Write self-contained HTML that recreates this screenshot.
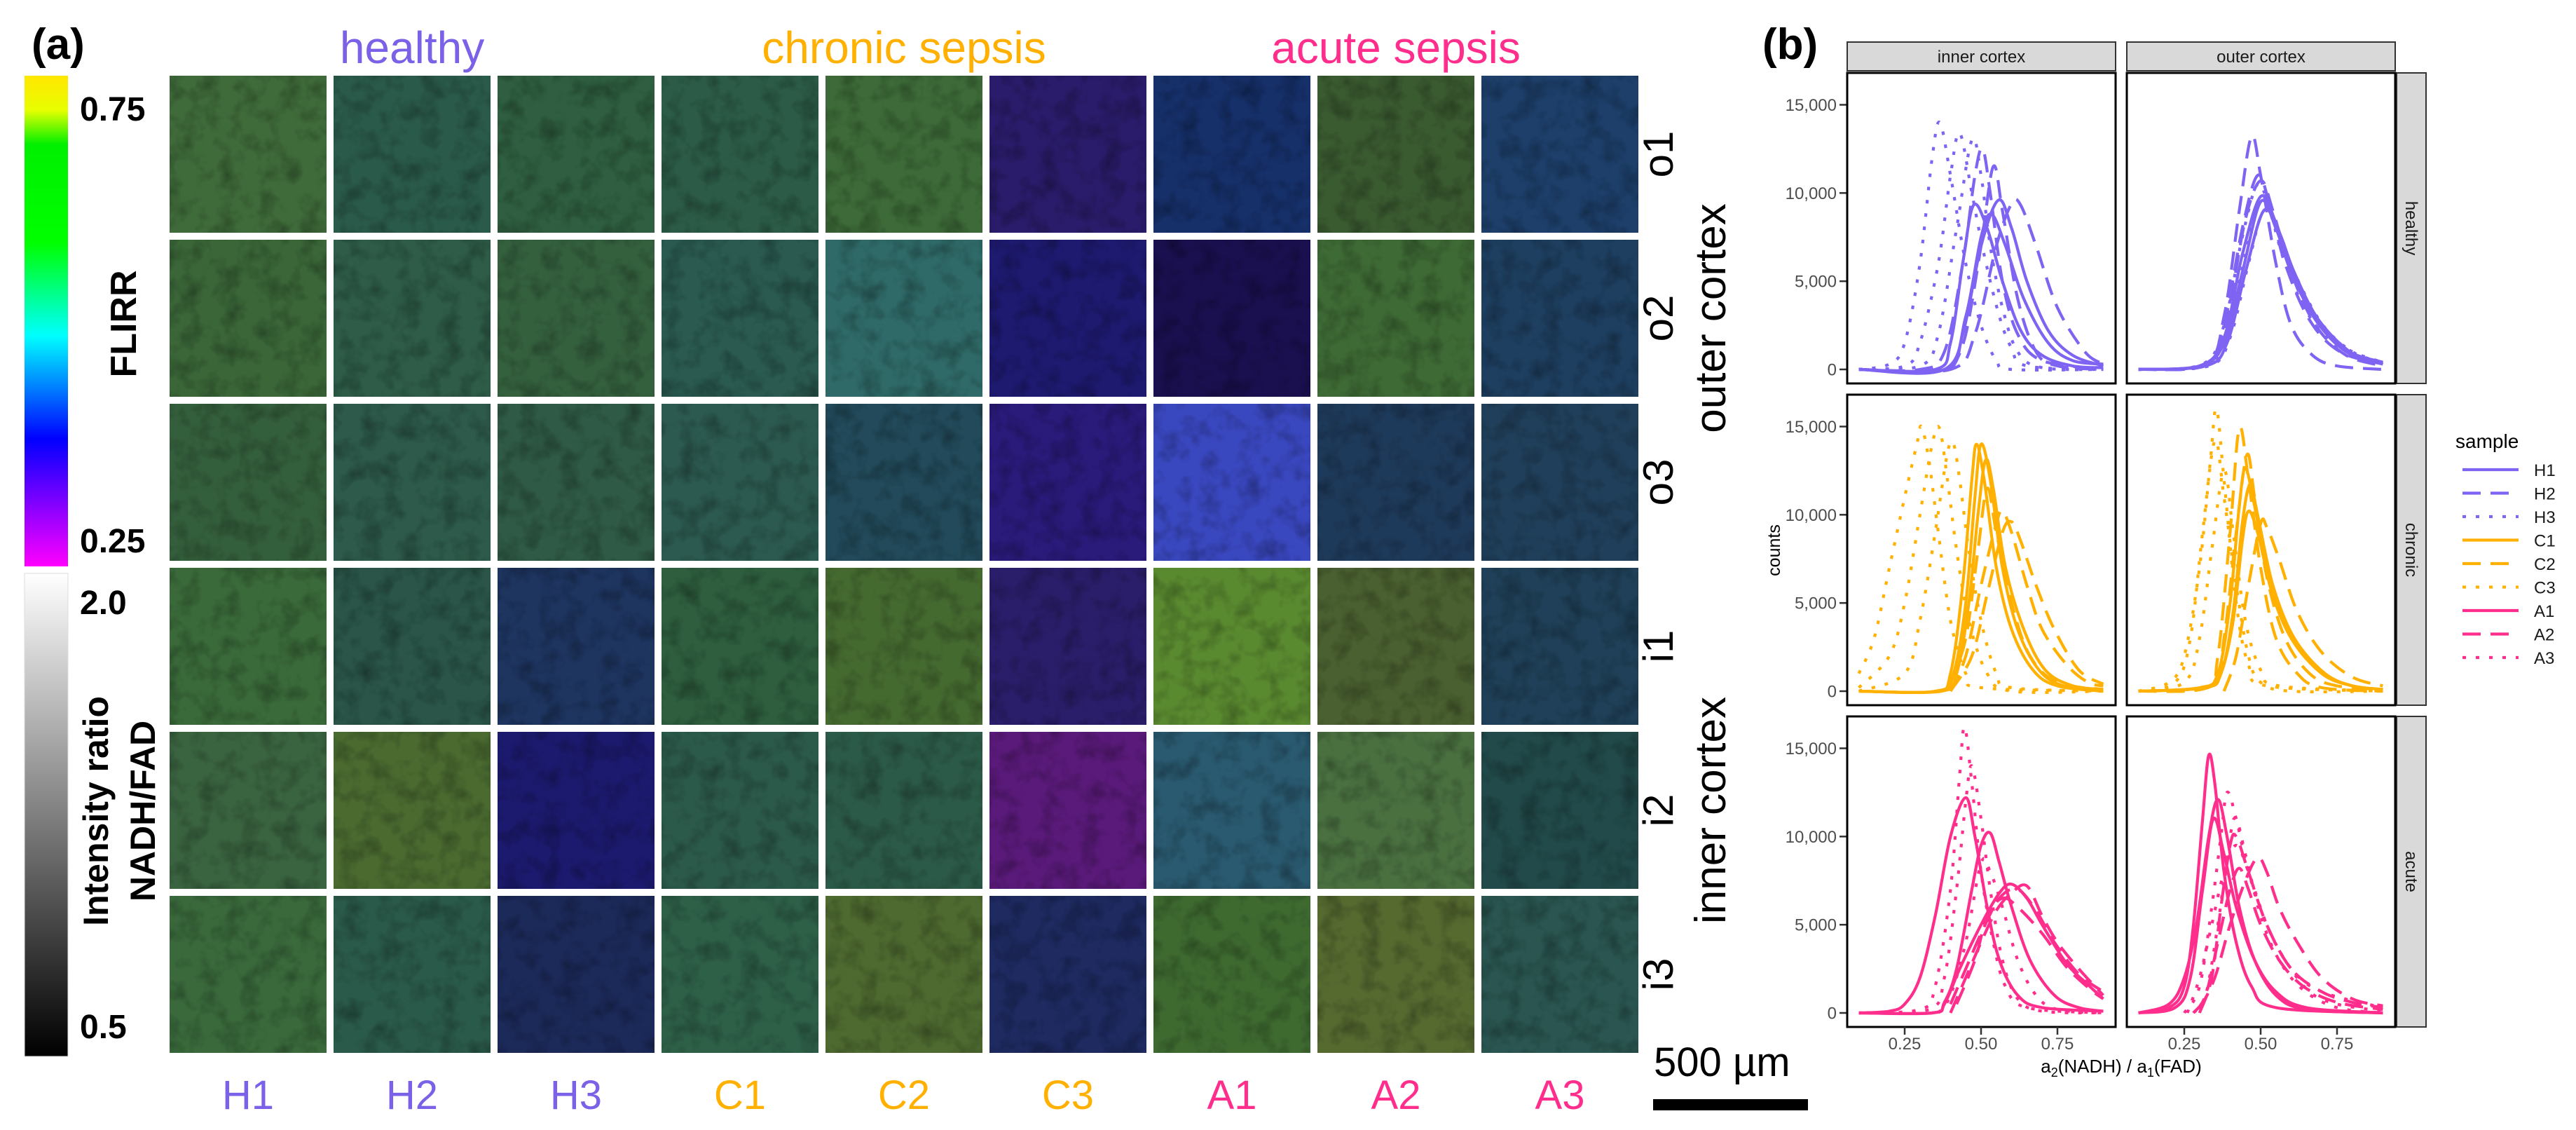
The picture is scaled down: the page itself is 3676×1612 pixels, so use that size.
<!DOCTYPE html>
<html><head><meta charset="utf-8"><style>
html,body{margin:0;padding:0;background:#fff;}
svg{display:block;font-family:"Liberation Sans",sans-serif;}
</style></head><body>
<svg id="fig" width="3676" height="1612" viewBox="0 0 3676 1612" xmlns="http://www.w3.org/2000/svg">
<defs>
<linearGradient id="flirrGrad" x1="0" y1="0" x2="0" y2="1">
<stop offset="0" stop-color="#ffe600"/><stop offset="0.07" stop-color="#e8ff00"/><stop offset="0.14" stop-color="#00f000"/><stop offset="0.34" stop-color="#00ff00"/><stop offset="0.53" stop-color="#00ffff"/><stop offset="0.74" stop-color="#0000ff"/><stop offset="1" stop-color="#ff00ff"/>
</linearGradient>
<linearGradient id="grayGrad" x1="0" y1="0" x2="0" y2="1">
<stop offset="0" stop-color="#ffffff"/><stop offset="1" stop-color="#000000"/>
</linearGradient>
<filter id="tex" x="0" y="0" width="100%" height="100%">
<feTurbulence type="fractalNoise" baseFrequency="0.035" numOctaves="3" seed="4"/>
<feColorMatrix type="matrix" values="0 0 0 0 0  0 0 0 0 0  0 0 0 0 0  0 0 0 -1.6 0.9"/>
</filter>
</defs>
<g id="panelA"></g>
<g id="panelB"></g>
</svg>
<script>
// ---------- Panel (a) data ----------
const sampleLabels = ["H1","H2","H3","C1","C2","C3","A1","A2","A3"];
const rowLabels = ["o1","o2","o3","i1","i2","i3"];
const tileColors = [
 ["#3f6b3a","#2a5a4a","#2f5f40","#2c5c48","#3d6a38","#2a1c6a","#16306a","#3a5a30","#1d3f6a"],
 ["#3a6638","#2e5c48","#34603e","#2a5a50","#2f6a68","#1e1a70","#1a1050","#3e6a35","#1e3f60"],
 ["#345f3c","#2d5a4a","#2f5a45","#2c5a50","#224a5a","#2a1a7a","#3a48c0","#1e3a5a","#203f5a"],
 ["#3a6a3a","#2a5548","#1e3560","#2e5e3e","#456a30","#2a1e6a","#5a8a30","#4a6030","#1f4058"],
 ["#3a6440","#4a6a30","#1c1a6e","#2c5a4a","#2c5a48","#5a1a7a","#2a5a70","#4a7040","#224a4a"],
 ["#3a6a3c","#2a5a4a","#1c2a5a","#2e6048","#4e6a30","#1e2a60","#3e6a30","#566a30","#2a5550"]
];
const groupColors = {H:"#7B61E8", C:"#FFB000", A:"#FF2E8C"};

// ---------- Panel (b) data: [x, counts in thousands] ----------
const healthyInnerH1 = [
 [[.1,0],[.35,0],[.4,1.5],[.44,6],[.475,9.3],[.52,8],[.57,5],[.63,2.2],[.7,0.8],[.8,0.2],[.9,0.1]],
 [[.1,0],[.38,0],[.44,2],[.5,7],[.557,9.6],[.6,8],[.65,5],[.72,2.2],[.8,0.8],[.9,0.2]],
 [[.1,0],[.38,0],[.45,3],[.5,7.5],[.534,8.8],[.58,7],[.64,4],[.72,1.5],[.8,0.5],[.9,0.3]]];
const healthyInnerH2 = [
 [[.1,0],[.3,0],[.38,1],[.44,6],[.48,11],[.505,12.5],[.53,10],[.57,5],[.62,2],[.7,0.5],[.9,0]],
 [[.405,0],[.45,2],[.5,7],[.54,11.5],[.57,9],[.62,4],[.68,1],[.75,0.2],[.9,0]],
 [[.1,0],[.4,0],[.48,2],[.55,7],[.6,9.4],[.63,9.3],[.68,7],[.75,3.5],[.84,1],[.9,0.3]]];
const healthyInnerH3 = [
 [[.1,0],[.2,0.3],[.25,1.5],[.3,6],[.34,12],[.365,14],[.4,11],[.45,6],[.5,2.5],[.55,0.5],[.6,0],[.9,0]],
 [[.1,0],[.25,0.2],[.3,1.5],[.36,6],[.4,11],[.43,13.4],[.47,10],[.51,6.5],[.56,3],[.6,1.2],[.65,0.2],[.9,0]],
 [[.1,0],[.3,0.2],[.36,2],[.42,8],[.47,13],[.5,11],[.53,7],[.57,3.5],[.62,1],[.7,0.1],[.9,0]]];
const healthyOuterH1 = [
 [[.1,0],[.3,0.2],[.38,1.5],[.44,5.5],[.5,9.5],[.55,8],[.6,5.5],[.68,2.8],[.78,1],[.9,0.3]],
 [[.1,0],[.3,0.2],[.38,1.8],[.44,6.5],[.5,9.8],[.55,8.3],[.6,5.8],[.68,3],[.78,1.1],[.9,0.4]],
 [[.1,0],[.32,0.2],[.39,1.5],[.45,5.5],[.51,9],[.56,7.8],[.61,5.5],[.69,2.8],[.8,0.9],[.9,0.3]]];
const healthyOuterH2 = [
 [[.1,0],[.32,0.3],[.38,3],[.43,9],[.47,13.2],[.5,11],[.55,6],[.6,2.5],[.67,0.8],[.75,0.2],[.9,0]],
 [[.1,0],[.33,0.3],[.39,3],[.45,8.5],[.5,10.7],[.54,9],[.6,5.5],[.68,2.5],[.78,0.8],[.9,0.2]],
 [[.1,0],[.32,0.3],[.38,2.5],[.44,8],[.49,11],[.53,9.3],[.58,6],[.66,2.8],[.76,1],[.9,0.3]]];
const healthyOuterH3 = [
 [[.1,0],[.31,0.3],[.38,2.5],[.44,7.5],[.49,10.5],[.53,9],[.58,6],[.66,3],[.76,1.2],[.9,0.3]],
 [[.1,0],[.32,0.2],[.39,2],[.45,6.5],[.5,9.6],[.55,8.2],[.6,5.6],[.68,3],[.78,1.2],[.9,0.4]],
 [[.1,0],[.33,0.2],[.4,1.8],[.46,6],[.51,9],[.56,7.8],[.61,5.5],[.7,2.6],[.8,1],[.9,0.4]]];
const chronicInnerC1 = [
 [[.1,0],[.35,0],[.4,1],[.44,6],[.47,12],[.485,14],[.51,12],[.55,7],[.6,3.5],[.67,1.2],[.75,0.3],[.9,0]],
 [[.1,0],[.36,0],[.41,1],[.45,5],[.48,11],[.5,14],[.53,12],[.57,7],[.62,3.5],[.69,1.2],[.77,0.3],[.9,0]],
 [[.1,0],[.37,0],[.42,1],[.46,5],[.49,10],[.515,13.1],[.54,11.5],[.58,7],[.64,3.5],[.71,1.2],[.8,0.3],[.9,0.1]]];
const chronicInnerC2 = [
 [[.4,0],[.45,2],[.5,6],[.55,9.5],[.57,10.2],[.6,9],[.65,6],[.7,3.5],[.78,1.5],[.85,0.5],[.9,0.3]],
 [[.4,0],[.47,2],[.52,5.5],[.57,9],[.6,9.6],[.63,8.5],[.68,6],[.74,3.5],[.82,1.2],[.9,0.4]],
 [[.4,0.5],[.45,3],[.49,8],[.52,11.5],[.55,9],[.6,5],[.66,2],[.75,0.5],[.9,0.1]]];
const chronicInnerC3 = [
 [[.1,1],[.15,3],[.2,7],[.25,11],[.29,14],[.305,15],[.33,13],[.36,9],[.4,4],[.45,1],[.5,0.2],[.9,0]],
 [[.1,0.2],[.2,2],[.25,5],[.3,10],[.34,14],[.364,14.9],[.39,12],[.42,8],[.46,4],[.52,1],[.6,0],[.9,0]],
 [[.1,0],[.25,1],[.3,4],[.35,9],[.39,13.5],[.41,14],[.43,12],[.46,8],[.5,4],[.55,1],[.6,0.2],[.9,0]]];
const chronicOuterC1 = [
 [[.1,0],[.3,0.2],[.36,1],[.4,5],[.43,10.5],[.45,12.6],[.48,10.5],[.53,6],[.6,3],[.7,1],[.8,0.3],[.9,0.1]],
 [[.1,0],[.31,0.2],[.37,1],[.41,4.5],[.44,9.5],[.465,11.7],[.49,10],[.54,6],[.61,3],[.71,1],[.8,0.3],[.9,0.1]],
 [[.1,0],[.32,0.2],[.37,1],[.41,4],[.44,8.5],[.46,10.2],[.49,9],[.54,5.5],[.61,2.8],[.71,1],[.8,0.3],[.9,0.1]]];
const chronicOuterC2 = [
 [[.1,0],[.32,0.2],[.36,2],[.4,9],[.43,14.9],[.46,12],[.5,7],[.55,3],[.62,1],[.7,0.2],[.9,0]],
 [[.1,0],[.34,0.3],[.38,3],[.42,9],[.455,13.4],[.48,11],[.52,6.5],[.58,3],[.66,1],[.75,0.3],[.9,0.1]],
 [[.38,0],[.42,2],[.46,6],[.5,9.5],[.52,9.3],[.56,7.5],[.62,4.5],[.7,2.2],[.8,0.8],[.9,0.3]]];
const chronicOuterC3 = [
 [[.1,0],[.2,0.5],[.25,2],[.3,7],[.335,13],[.355,16],[.38,12],[.42,5],[.46,1.5],[.52,0.3],[.9,0]],
 [[.1,0],[.22,0.5],[.27,3],[.31,9],[.35,14.2],[.38,11],[.42,6],[.46,2],[.5,0.5],[.6,0],[.9,0]],
 [[.1,0],[.25,0.5],[.3,3],[.34,8],[.38,12.5],[.41,9],[.45,4],[.5,1.2],[.56,0.3],[.9,0]]];
const acuteInnerA1 = [
 [[.1,0],[.2,0.1],[.25,0.5],[.3,2],[.35,5.5],[.4,10],[.45,12.2],[.48,10],[.52,6],[.56,3],[.62,1],[.7,0.3],[.9,0.1]],
 [[.1,0],[.34,0],[.38,0.6],[.42,2.5],[.47,7],[.5,9.5],[.53,10.2],[.56,8.5],[.6,6],[.66,3],[.74,1],[.82,0.3],[.9,0.1]],
 [[.1,0],[.34,0],[.38,0.5],[.43,2.5],[.5,5],[.56,6.8],[.6,7.3],[.65,6.5],[.7,5],[.78,2.8],[.85,1.6],[.9,0.8]]];
const acuteInnerA2 = [
 [[.4,0],[.45,2],[.5,4],[.55,5.8],[.6,6.8],[.65,7.2],[.7,5.5],[.75,4],[.82,2.5],[.9,1]],
 [[.4,0.5],[.45,2.5],[.5,4.5],[.56,6.5],[.62,7],[.68,5.8],[.74,4],[.82,2.2],[.9,1.2]],
 [[.42,0.5],[.48,3],[.52,5.5],[.57,6.5],[.62,6],[.7,4.5],[.78,2.6],[.86,1.3],[.9,0.8]]];
const acuteInnerA3 = [
 [[.1,0],[.3,0.2],[.35,1.5],[.4,7],[.43,13.5],[.446,16.2],[.47,13],[.5,8],[.54,4],[.58,1.5],[.65,0.3],[.9,0]],
 [[.1,0],[.33,0.2],[.38,2],[.42,7],[.45,12],[.47,14],[.5,11],[.53,7],[.57,3],[.62,0.8],[.7,0.1],[.9,0]],
 [[.36,0],[.4,1],[.45,4],[.5,8.5],[.53,8],[.57,6],[.62,3],[.68,1],[.75,0.2],[.9,0]]];
const acuteOuterA1 = [
 [[.1,0],[.2,0.3],[.25,1.5],[.28,5],[.31,11],[.33,14.6],[.35,13],[.38,8],[.42,4],[.47,1.5],[.55,0.3],[.9,0]],
 [[.1,0],[.2,0.5],[.25,2],[.29,5],[.33,10],[.36,12.1],[.39,10],[.43,6],[.48,3],[.55,1],[.65,0.2],[.9,0]],
 [[.1,0],[.22,0.3],[.27,2],[.31,7],[.345,11],[.38,9],[.42,6],[.48,3],[.55,1.2],[.65,0.3],[.9,0]]];
const acuteOuterA2 = [
 [[.28,0],[.32,1],[.36,4],[.4,7],[.43,8.2],[.46,7],[.5,5],[.56,3],[.64,1.5],[.75,0.6],[.9,0.2]],
 [[.3,0.2],[.35,2],[.4,5],[.45,7.5],[.49,8.8],[.52,8],[.56,6],[.62,4],[.7,2],[.8,0.8],[.9,0.4]],
 [[.3,0],[.34,2],[.37,6],[.4,9.5],[.42,10],[.46,8],[.52,5],[.6,2.5],[.7,1.2],[.8,0.6],[.9,0.3]]];
const acuteOuterA3 = [
 [[.25,0],[.3,1.5],[.34,6],[.37,10],[.39,12.5],[.42,11],[.46,8],[.52,5],[.6,2.5],[.7,1.2],[.9,0.3]],
 [[.26,0],[.3,2],[.34,5],[.38,8],[.42,9.5],[.46,8],[.52,5],[.58,3],[.66,1.2],[.75,0.5],[.9,0.1]],
 [[.28,0],[.32,1],[.36,5],[.4,10],[.42,11],[.45,9],[.5,5.5],[.56,3],[.64,1.3],[.75,0.3],[.9,0]]];

const yTicks = [0,5000,10000,15000];
const yTickLabels = ["0","5,000","10,000","15,000"];
const xTicks = [0.25,0.5,0.75];
const xTickLabels = ["0.25","0.50","0.75"];
const colStrips = ["inner cortex","outer cortex"];
const rowStrips = ["healthy","chronic","acute"];
const legendLabels = ["H1","H2","H3","C1","C2","C3","A1","A2","A3"];

const NS = "http://www.w3.org/2000/svg";
function mk(tag, attrs, parent, text){
  const e = document.createElementNS(NS, tag);
  for (const k in attrs) e.setAttribute(k, attrs[k]);
  if (text !== undefined) e.textContent = text;
  parent.appendChild(e);
  return e;
}

// ================= Panel (a) =================
const A = document.getElementById("panelA");
const tileX0 = 242, tileY0 = 108, pitch = 234, tileW = 224;
let t;
t = mk("text",{x:45,y:84,"font-size":62,"font-weight":"bold",fill:"#000"},A,"(a)");


let cb = mk("rect",{x:35,y:108,width:62,height:700,fill:"url(#flirrGrad)"},A);


let gb = mk("rect",{x:35,y:818,width:62,height:689,fill:"url(#grayGrad)",stroke:"#ddd","stroke-width":1},A);


const cbLabels = [["0.75",172],["0.25",788],["2.0",876],["0.5",1481]];
cbLabels.forEach(([s,y])=>{
  const e = mk("text",{x:114,y:y,"font-size":48,"font-weight":"bold",fill:"#000"},A,s);
  
  
});
t = mk("text",{x:0,y:0,"font-size":52,"font-weight":"bold","text-anchor":"middle",transform:"translate(194,462) rotate(-90)"},A,"FLIRR");


t = mk("text",{x:0,y:0,"font-size":50,"font-weight":"bold","text-anchor":"middle",transform:"translate(154,1157) rotate(-90)"},A,"Intensity ratio");


t = mk("text",{x:0,y:0,"font-size":50,"font-weight":"bold","text-anchor":"middle",transform:"translate(221,1157) rotate(-90)"},A,"NADH/FAD");



const groupTitles = [["healthy","H",1],["chronic sepsis","C",4],["acute sepsis","A",7]];
groupTitles.forEach(([s,g,c])=>{
  const e = mk("text",{x:tileX0+c*pitch+tileW/2,y:90,"font-size":64,"text-anchor":"middle",fill:groupColors[g]},A,s);
  
  
});
const tilesG = mk("g",{},A);


for (let r=0;r<6;r++){
  for (let c=0;c<9;c++){
    const rc = mk("rect",{x:tileX0+c*pitch,y:tileY0+r*pitch,width:tileW,height:tileW,fill:tileColors[r][c]},tilesG);
    
    
  }
}
const tex = mk("rect",{x:tileX0,y:tileY0,width:8*pitch+tileW,height:5*pitch+tileW,filter:"url(#tex)",opacity:0.38},A);


for (let i=1;i<9;i++){ const g=mk("rect",{x:tileX0+i*pitch-10,y:tileY0-2,width:10,height:5*pitch+tileW+4,fill:"#fff"},A);   }
for (let i=1;i<6;i++){ const g=mk("rect",{x:tileX0-2,y:tileY0+i*pitch-10,width:8*pitch+tileW+4,height:10,fill:"#fff"},A);   }

sampleLabels.forEach((s,c)=>{
  const e = mk("text",{x:tileX0+c*pitch+tileW/2,y:1582,"font-size":58,"text-anchor":"middle",fill:groupColors[s[0]]},A,s);
  
  
});
rowLabels.forEach((s,r)=>{
  const cy = tileY0+r*pitch+tileW/2;
  const e = mk("text",{x:0,y:0,"font-size":60,"text-anchor":"middle",transform:`translate(2387,${cy}) rotate(-90)`},A,s);
  
  
});
t = mk("text",{x:0,y:0,"font-size":62,"text-anchor":"middle",transform:"translate(2462,454) rotate(-90)"},A,"outer cortex");


t = mk("text",{x:0,y:0,"font-size":62,"text-anchor":"middle",transform:"translate(2462,1156) rotate(-90)"},A,"inner cortex");


t = mk("text",{x:2360,y:1535,"font-size":58,fill:"#000"},A,"500 µm");


t = mk("rect",{x:2359,y:1568,width:221,height:16,fill:"#000"},A);



// ================= Panel (b) =================
const B = document.getElementById("panelB");
const panelLeft = [2636, 3035], panelTop = [104, 563, 1022], panelW = 383, panelH = 443;
const lineColors = ["#7F63F2","#FFB000","#FF2E8C"];
const dashes = ["", "26,14", "5,14"];
function xScale(col, v){ return panelLeft[col] - 27 + v*436; }
function yScale(row, v){ return panelTop[row] + 423 - v*0.025167; }
function pathFrom(pts){
  if (pts.length<2) return "";
  let d = `M${pts[0][0].toFixed(1)},${pts[0][1].toFixed(1)}`;
  for (let i=0;i<pts.length-1;i++){
    const p0=pts[Math.max(0,i-1)], p1=pts[i], p2=pts[i+1], p3=pts[Math.min(pts.length-1,i+2)];
    const c1x=p1[0]+(p2[0]-p0[0])/6, c1y=p1[1]+(p2[1]-p0[1])/6;
    const c2x=p2[0]-(p3[0]-p1[0])/6, c2y=p2[1]-(p3[1]-p1[1])/6;
    d += ` C${c1x.toFixed(1)},${c1y.toFixed(1)} ${c2x.toFixed(1)},${c2y.toFixed(1)} ${p2[0].toFixed(1)},${p2[1].toFixed(1)}`;
  }
  return d;
}
t = mk("text",{x:2515,y:84,"font-size":62,"font-weight":"bold"},B,"(b)");



const panelSeries = [
  [[healthyInnerH1,healthyInnerH2,healthyInnerH3],[healthyOuterH1,healthyOuterH2,healthyOuterH3]],
  [[chronicInnerC1,chronicInnerC2,chronicInnerC3],[chronicOuterC1,chronicOuterC2,chronicOuterC3]],
  [[acuteInnerA1,acuteInnerA2,acuteInnerA3],[acuteOuterA1,acuteOuterA2,acuteOuterA3]]
];
const groupLetter = ["H","C","A"];
colStrips.forEach((s,c)=>{
  const r = mk("rect",{x:panelLeft[c],y:60,width:panelW,height:41,fill:"#d9d9d9",stroke:"#333","stroke-width":2},B);
  
  
  const e = mk("text",{x:panelLeft[c]+panelW/2,y:89,"font-size":24,"text-anchor":"middle",fill:"#1a1a1a"},B,s);
  
  
});
rowStrips.forEach((s,r)=>{
  const rr = mk("rect",{x:3420,y:panelTop[r],width:42,height:panelH,fill:"#d9d9d9",stroke:"#333","stroke-width":2},B);
  
  
  const e = mk("text",{x:0,y:0,"font-size":24,"text-anchor":"middle",fill:"#1a1a1a",transform:`translate(3433,${panelTop[r]+panelH/2}) rotate(90)`},B,s);
  
  
  yTicks.forEach((v,i)=>{
    const y = yScale(r,v);
    const tk = mk("line",{x1:2625,x2:2636,y1:y,y2:y,stroke:"#333","stroke-width":2.5},B);
    
    
    const tl = mk("text",{x:2621,y:y+8.5,"font-size":24,"text-anchor":"end",fill:"#4d4d4d"},B,yTickLabels[i]);
    
    
  });
  for (let c=0;c<2;c++){
    const pg = mk("g",{},B);
    
    
    const bg = mk("rect",{x:panelLeft[c],y:panelTop[r],width:panelW,height:panelH,fill:"#fff"},pg);
    
    
    panelSeries[r][c].forEach((sampleCurves,si)=>{
      sampleCurves.forEach((curve,k)=>{
        const pts = curve.map(p=>[xScale(c,p[0]), yScale(r,p[1]*1000)]);
        const attrs = {d:pathFrom(pts),fill:"none",stroke:lineColors[r],"stroke-width":4.2,"stroke-linejoin":"round"};
        if (dashes[si]) attrs["stroke-dasharray"] = dashes[si];
        const ln = mk("path",attrs,pg);
        
        
      });
    });
    const fr = mk("rect",{x:panelLeft[c],y:panelTop[r],width:panelW,height:panelH,fill:"none",stroke:"#000","stroke-width":3},pg);
    
    
  }
});
for (let c=0;c<2;c++){
  xTicks.forEach((v,i)=>{
    const x = xScale(c,v), yb = panelTop[2]+panelH;
    const tk = mk("line",{x1:x,x2:x,y1:yb,y2:yb+11,stroke:"#333","stroke-width":2.5},B);
    
    
    const tl = mk("text",{x:x,y:yb+32,"font-size":24,"text-anchor":"middle",fill:"#4d4d4d"},B,xTickLabels[i]);
    
    
  });
}
t = mk("text",{x:0,y:0,"font-size":25,"text-anchor":"middle",transform:"translate(2540,785) rotate(-90)"},B,"counts");


const xt = mk("text",{x:3027,y:1530,"font-size":26,"text-anchor":"middle"},B);


xt.innerHTML = 'a<tspan font-size="18" dy="6">2</tspan><tspan dy="-6">(NADH) / a</tspan><tspan font-size="18" dy="6">1</tspan><tspan dy="-6">(FAD)</tspan>';

const lg = mk("g",{},B);


t = mk("text",{x:3504,y:639,"font-size":28,fill:"#000"},lg,"sample");


legendLabels.forEach((s,i)=>{
  const y = 670 + i*33.5;
  const gi = Math.floor(i/3), si = i%3;
  const attrs = {x1:3514,x2:3594,y1:y,y2:y,stroke:lineColors[gi],"stroke-width":4.2};
  if (dashes[si]) attrs["stroke-dasharray"] = dashes[si];
  const l = mk("line",attrs,lg);
  
  
  const tx = mk("text",{x:3616,y:y+9,"font-size":24,fill:"#1a1a1a"},lg,s);
  
  
});
</script>
</body></html>
